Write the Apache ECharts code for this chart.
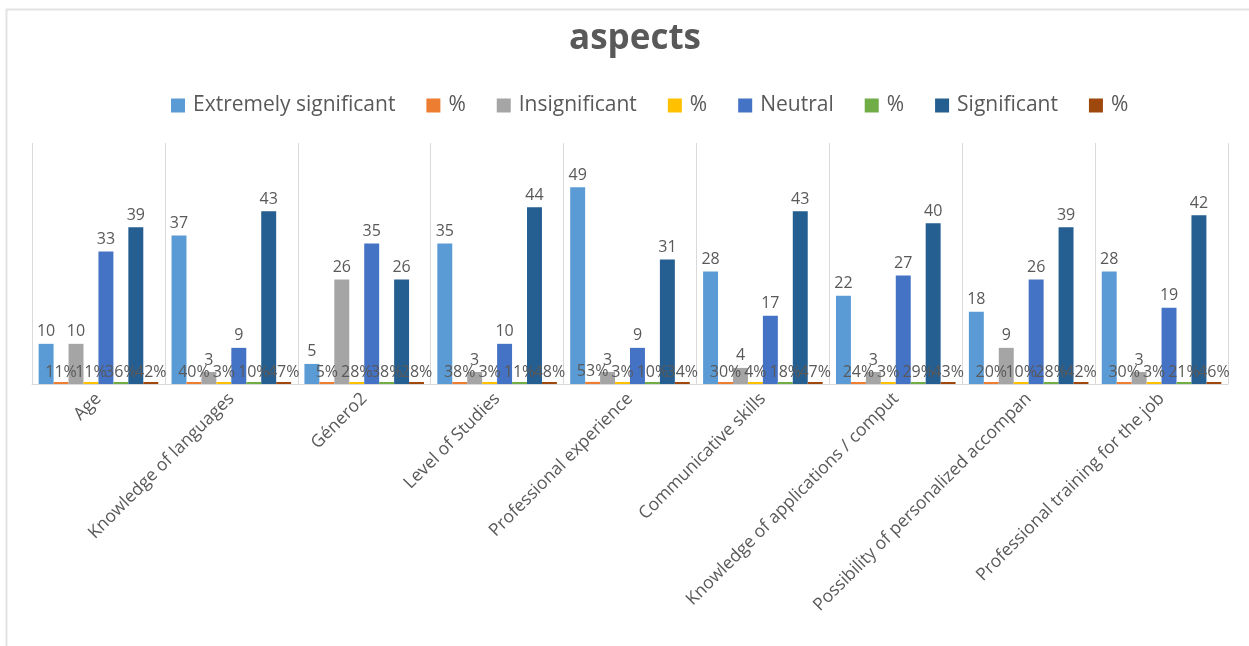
<!DOCTYPE html>
<html>
<head>
<meta charset="utf-8">
<style>
html,body{margin:0;padding:0;background:#fff;}
#chart{width:1249px;height:646px;}
</style>
<script src="https://cdn.jsdelivr.net/npm/echarts@6/dist/echarts.min.js"></script>
</head>
<body>
<div id="chart"></div>
<script>
const categories = [
  "Age",
  "Knowledge of languages",
  "Género2",
  "Level of Studies",
  "Professional experience",
  "Communicative skills",
  "Knowledge of applications / comput",
  "Possibility of personalized accompan",
  "Professional training for the job"
];
const extremelySignificant = [10, 37, 5, 35, 49, 28, 22, 18, 28];
const extremelySignificantPct = [0.11, 0.40, 0.05, 0.38, 0.53, 0.30, 0.24, 0.20, 0.30];
const insignificant = [10, 3, 26, 3, 3, 4, 3, 9, 3];
const insignificantPct = [0.11, 0.03, 0.28, 0.03, 0.03, 0.04, 0.03, 0.10, 0.03];
const neutral = [33, 9, 35, 10, 9, 17, 27, 26, 19];
const neutralPct = [0.36, 0.10, 0.38, 0.11, 0.10, 0.18, 0.29, 0.28, 0.21];
const significant = [39, 43, 26, 44, 31, 43, 40, 39, 42];
const significantPct = [0.42, 0.47, 0.28, 0.48, 0.34, 0.47, 0.43, 0.42, 0.46];

const seriesDefs = [
  {name: "Extremely significant", data: extremelySignificant, color: "#5B9BD5", pct: false},
  {name: "%", data: extremelySignificantPct, color: "#ED7D31", pct: true},
  {name: "Insignificant", data: insignificant, color: "#A5A5A5", pct: false},
  {name: "% ", data: insignificantPct, color: "#FFC000", pct: true},
  {name: "Neutral", data: neutral, color: "#4472C4", pct: false},
  {name: "%  ", data: neutralPct, color: "#70AD47", pct: true},
  {name: "Significant", data: significant, color: "#255E91", pct: false},
  {name: "%   ", data: significantPct, color: "#9E480E", pct: true}
];

const FONT = "'Open Sans', 'Noto Sans', sans-serif";
const chart = echarts.init(document.getElementById('chart'), null, {renderer: 'canvas'});

chart.setOption({
  backgroundColor: '#ffffff',
  animation: false,
  graphic: [{
    type: 'rect',
    shape: {x: 6.5, y: 9.5, width: 1300, height: 700},
    style: {fill: 'none', stroke: '#e3e3e3', lineWidth: 2},
    silent: true,
    z: -10
  }],
  title: {
    text: 'aspects',
    left: 630,
    textAlign: 'center',
    top: 17,
    textStyle: {fontFamily: FONT, fontSize: 35, fontWeight: 'bold', color: '#595959'}
  },
  legend: {
    top: 90,
    left: 166,
    itemWidth: 14,
    itemHeight: 14,
    itemGap: 31,
    icon: 'rect',
    textStyle: {fontFamily: FONT, fontSize: 21, color: '#595959', padding: [0, 0, 0, 3]},
    formatter: function (n) { return n.trim(); },
    data: seriesDefs.map(s => s.name)
  },
  grid: {left: 32, right: 21, top: 143, bottom: 262, containLabel: false},
  xAxis: {
    type: 'category',
    data: categories,
    axisLine: {lineStyle: {color: '#d9d9d9', width: 1}},
    axisTick: {show: false},
    splitLine: {show: true, lineStyle: {color: '#d9d9d9', width: 1}},
    axisLabel: {
      rotate: 45,
      interval: 0,
      margin: 12,
      fontFamily: FONT,
      fontSize: 17.5,
      color: '#595959'
    }
  },
  yAxis: {
    type: 'value',
    min: 0,
    max: 60,
    show: false,
    splitLine: {show: false}
  },
  series: seriesDefs.map(s => ({
    name: s.name,
    type: 'bar',
    data: s.data,
    itemStyle: {color: s.color},
    barGap: '0%',
    barCategoryGap: '10%',
    barMinHeight: s.pct ? 2 : 0,
    label: {
      show: true,
      position: 'top',
      distance: s.pct ? 2 : 4,
      fontFamily: FONT,
      fontSize: 16,
      color: '#595959',
      formatter: s.pct
        ? function (p) { return Math.round(p.value * 100) + '%'; }
        : function (p) { return p.value; }
    }
  }))
});
</script>
</body>
</html>
